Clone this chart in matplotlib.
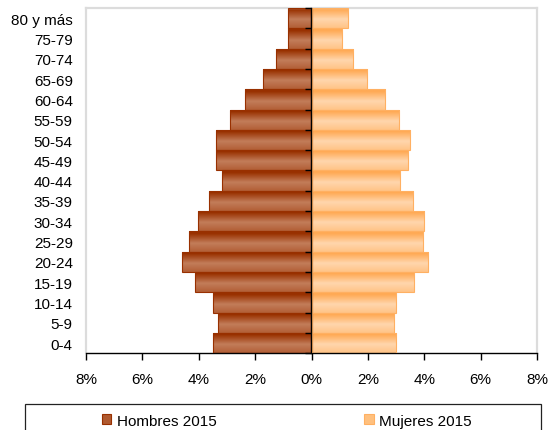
import numpy as np
import matplotlib
matplotlib.use("Agg")
import matplotlib.pyplot as plt
from matplotlib.colors import LinearSegmentedColormap
from matplotlib.patches import Patch, Rectangle

plt.rcParams['font.family'] = ['Liberation Sans', 'DejaVu Sans']

# Population pyramid, share of total population (%) by age group
age_groups = ["0-4", "5-9", "10-14", "15-19", "20-24", "25-29", "30-34", "35-39",
              "40-44", "45-49", "50-54", "55-59", "60-64", "65-69", "70-74",
              "75-79", "80 y más"]
hombres_2015 = [3.48, 3.31, 3.48, 4.15, 4.59, 4.35, 4.01, 3.62,
                3.17, 3.38, 3.38, 2.88, 2.35, 1.73, 1.25, 0.82, 0.84]
mujeres_2015 = [3.01, 2.91, 2.99, 3.63, 4.12, 3.94, 3.98, 3.59,
                3.14, 3.44, 3.49, 3.10, 2.61, 1.96, 1.46, 1.07, 1.28]
x_ticks = [-8, -6, -4, -2, 0, 2, 4, 6, 8]
series_labels = ["Hombres 2015", "Mujeres 2015"]

W, H = 551, 431
fig = plt.figure(figsize=(W / 100, H / 100), dpi=100)
ax = fig.add_axes([86 / W, 1 - 354.3 / H, (537 - 86) / W, (354.3 - 9) / H])

y = np.arange(len(age_groups))
men_bars = ax.barh(y, -np.array(hombres_2015), height=1.0, facecolor='none',
                   edgecolor='#983000', linewidth=0.8, zorder=3)
women_bars = ax.barh(y, mujeres_2015, height=1.0, facecolor='none',
                     edgecolor='#ffb062', linewidth=0.8, zorder=3)


def shade(bars, mid, light, dark):
    """Fill each bar with a vertical banded gradient clipped to the bar."""
    cmap = LinearSegmentedColormap.from_list(
        'band', [(0.0, mid), (0.42, light), (0.88, dark), (1.0, dark)])
    grad = np.linspace(0, 1, 128).reshape(-1, 1)
    for b in bars:
        x0, y0 = b.get_x(), b.get_y()
        x1, y1 = x0 + b.get_width(), y0 + b.get_height()
        im = ax.imshow(grad, extent=[min(x0, x1), max(x0, x1), y0, y1],
                       origin='lower', cmap=cmap, aspect='auto',
                       interpolation='bilinear', zorder=2)
        im.set_clip_path(b)


shade(men_bars, '#b25e36', '#c27d5a', '#993100')
shade(women_bars, '#ffc386', '#ffd6ad', '#ffaa55')

ax.set_xlim(-8, 8)
ax.set_ylim(-0.5, len(age_groups) - 0.5)
ax.set_aspect('auto')

ax.set_xticks(x_ticks)
ax.set_xticklabels([f"{abs(v)}%" for v in x_ticks])
ax.set_yticks(y)
ax.set_yticklabels(age_groups)
ax.tick_params(axis='x', direction='out', length=5, width=1, color='black',
               labelsize=11, pad=8.5)
ax.tick_params(axis='y', length=0, labelsize=11, pad=9.5)

for side in ('top', 'left', 'right'):
    ax.spines[side].set_color('#dcdcdc')
    ax.spines[side].set_linewidth(1.6)
ax.spines['bottom'].set_color('black')
ax.spines['bottom'].set_linewidth(1.0)

# Vertical zero axis with ticks at the age group boundaries
ax2 = ax.twinx()
ax2.set_ylim(ax.get_ylim())
ax2.spines['right'].set_position(('data', 0))
for side in ('top', 'left', 'bottom'):
    ax2.spines[side].set_visible(False)
ax2.spines['right'].set_color('black')
ax2.spines['right'].set_linewidth(1.0)
ax2.set_yticks(np.arange(-0.5, len(age_groups), 1.0))
ax2.tick_params(axis='y', direction='in', length=4, width=1, color='black',
                labelright=False)

# Legend frame and entries
fig.patches.append(Rectangle((25 / W, -0.05), (541 - 25) / W, 0.05 + 1 - 405 / H,
                             transform=fig.transFigure, fill=False,
                             edgecolor='#222222', linewidth=0.9))
handles = [Patch(facecolor='#b05a30', edgecolor='#983000', linewidth=0.8),
           Patch(facecolor='#ffc07e', edgecolor='#ffb062', linewidth=0.8)]
fig.legend(handles, series_labels, loc='center left',
           bbox_to_anchor=(102 / W, 1 - 421.7 / H), ncol=2, frameon=False,
           borderpad=0, borderaxespad=0, handlelength=0.6, handleheight=0.6,
           handletextpad=0.35, columnspacing=9.7, fontsize=11)

fig.savefig("out.png", dpi=100)
